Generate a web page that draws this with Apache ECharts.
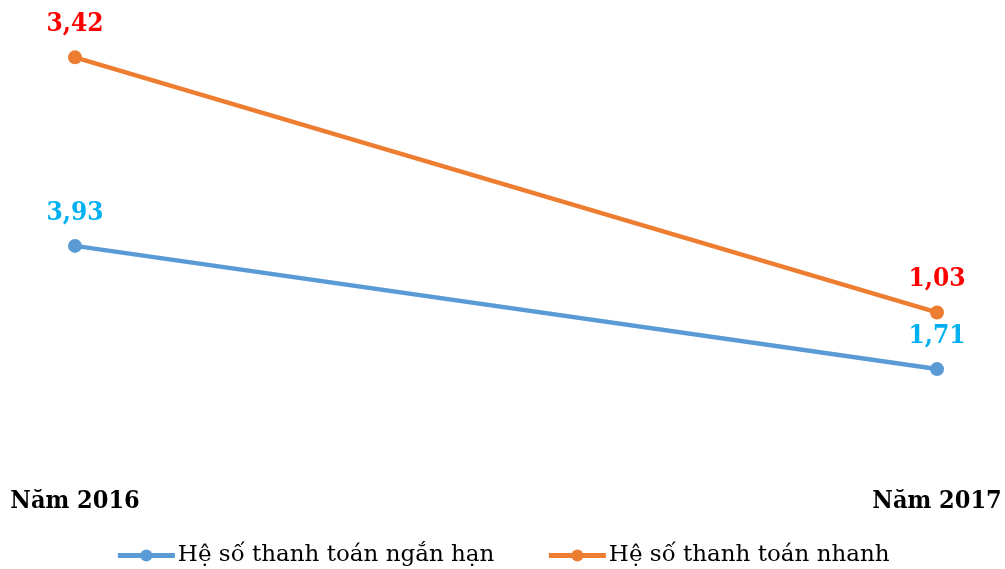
<!DOCTYPE html>
<html>
<head>
<meta charset="utf-8">
<script src="https://cdn.jsdelivr.net/npm/echarts@6/dist/echarts.min.js"></script>
<style>
  html, body { margin: 0; padding: 0; background: #fff; }
  #chart { width: 1005px; height: 569px; }
</style>
</head>
<body>
<div id="chart"></div>
<script>
// Years on the category axis
const years = ['Năm 2016', 'Năm 2017'];
// Current ratio (short-term solvency)
const currentRatio = [3.93, 1.71];
// Quick ratio
const quickRatio = [3.42, 1.03];

const seriesNames = ['Hệ số thanh toán ngắn hạn', 'Hệ số thanh toán nhanh'];

const FONT = '"DejaVu Serif", "Liberation Serif", serif';
const LABEL_FONT = '"DejaVu Serif Condensed", "DejaVu Serif", serif';
const fmt = p => String(p.value).replace('.', ',');

const chart = echarts.init(document.getElementById('chart'));
chart.setOption({
  animation: false,
  grid: { left: 75, right: 68, top: 20, bottom: 105, containLabel: false },
  legend: {
    bottom: -3,
    left: 'center',
    itemWidth: 57,
    itemHeight: 15,
    itemGap: 52,
    lineStyle: { width: 5 },
    textStyle: { fontFamily: FONT, fontSize: 23, color: '#000', padding: [0, 0, 0, -2] },
    data: seriesNames
  },
  xAxis: {
    type: 'category',
    data: years,
    boundaryGap: false,
    axisLine: { show: false },
    axisTick: { show: false },
    splitLine: { show: false },
    axisLabel: {
      margin: 25,
      fontFamily: LABEL_FONT,
      fontSize: 25,
      fontWeight: 'bold',
      color: '#000'
    }
  },
  yAxis: [
    { type: 'value', min: 0, max: 8, show: false, splitLine: { show: false } },
    { type: 'value', min: -0.39, max: 3.77, show: false, splitLine: { show: false } }
  ],
  series: [
    {
      name: seriesNames[0],
      type: 'line',
      yAxisIndex: 0,
      data: currentRatio,
      symbol: 'circle',
      symbolSize: 14,
      lineStyle: { width: 4.5, color: '#5B9BD5' },
      itemStyle: { color: '#5B9BD5' },
      label: {
        show: true,
        position: 'top',
        distance: 13,
        formatter: fmt,
        fontFamily: LABEL_FONT,
        fontSize: 26,
        fontWeight: 'bold',
        color: '#00B0F0'
      }
    },
    {
      name: seriesNames[1],
      type: 'line',
      yAxisIndex: 1,
      data: quickRatio,
      symbol: 'circle',
      symbolSize: 14,
      lineStyle: { width: 4.5, color: '#ED7D31' },
      itemStyle: { color: '#ED7D31' },
      label: {
        show: true,
        position: 'top',
        distance: 13,
        formatter: fmt,
        fontFamily: LABEL_FONT,
        fontSize: 26,
        fontWeight: 'bold',
        color: '#FF0000'
      }
    }
  ]
});
</script>
</body>
</html>
